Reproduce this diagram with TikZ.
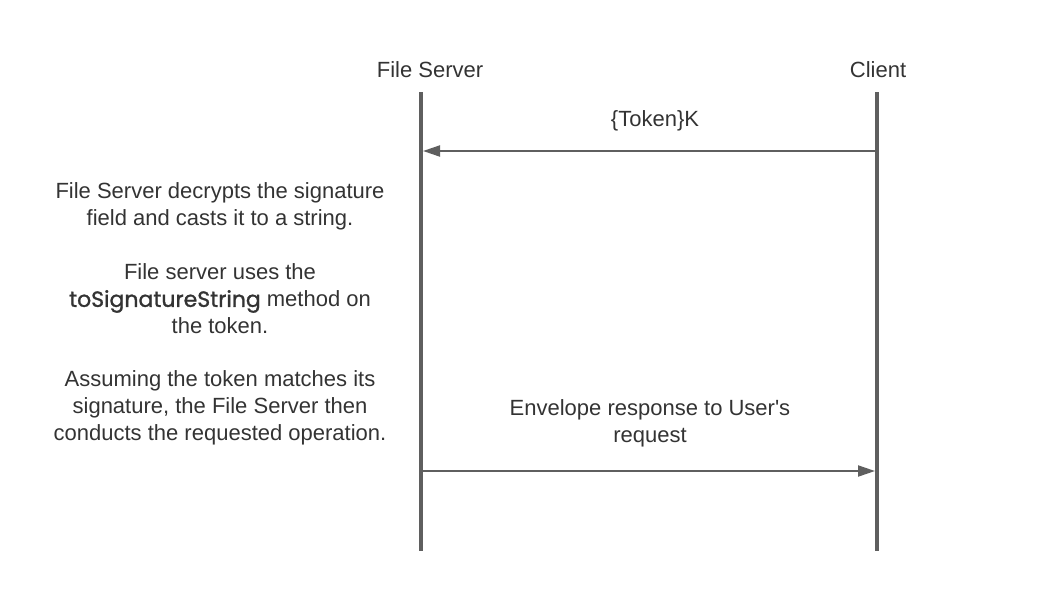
\documentclass[tikz,border=0pt]{standalone}
\usepackage{fontspec}
\setmainfont{Liberation Sans}
\newfontfamily\codefont[FakeBold=1.2]{Poppins}
\usetikzlibrary{arrows.meta}
\definecolor{ln}{HTML}{5F5F5F}
\definecolor{tx}{HTML}{333333}
\tikzset{
  lifeline/.style={draw=ln, line width=4pt},
  msg/.style={draw=ln, line width=2pt, -{Triangle[length=17pt,width=11pt]}},
  lbl/.style={text=tx, font=\fontsize{22}{27}\selectfont, align=center, inner sep=0pt},
}
\begin{document}
\begin{tikzpicture}[x=1pt,y=-1pt]
\useasboundingbox (0,0) rectangle (1038,592);
\node[lbl] (fs) at (430,70) {File Server};
\node[lbl] (cl) at (878,70) {Client};
\coordinate (fsT) at (421,92);
\coordinate (fsB) at (421,551);
\coordinate (clT) at (877,92);
\coordinate (clB) at (877,551);
\draw[lifeline] (fsT) -- (fsB);
\draw[lifeline] (clT) -- (clB);
\coordinate (m1s) at (877,151);
\coordinate (m1e) at (423,151);
\draw[msg] (m1s) -- (m1e);
\node[lbl] (m1l) at (655,121) {\{Token\}K};
\coordinate (m2s) at (421,471);
\coordinate (m2e) at (875,471);
\draw[msg] (m2s) -- (m2e);
\node[lbl] (m2l) at (650,423) {Envelope response to User\textquotesingle s\\request};
\node[lbl] (p1) at (220,206.5) {File Server decrypts the signature\\field and casts it to a string.};
\node[lbl] (p2) at (220,299) {File server uses the\\{\codefont toSignatureString} method on\\the token.};
\node[lbl] (p3) at (220,408) {Assuming the token matches its\\signature, the File Server then\\conducts the requested operation.};
\end{tikzpicture}
\end{document}
